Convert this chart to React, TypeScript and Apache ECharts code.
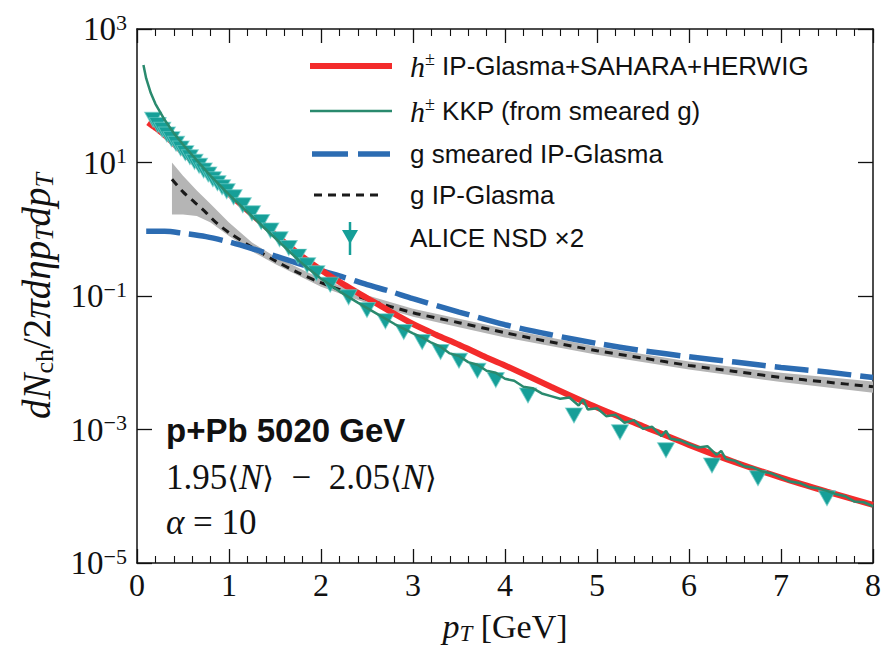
import React, { useEffect, useRef } from "react";
import * as echarts from "echarts";

// ---------- data (x in GeV, y given as log10 of dN/2πdηpTdpT) ----------
const yTickExponents = [-5, -3, -1, 1, 3];

const redPt = [0.12, 0.2, 0.3, 0.5, 0.75, 1.0, 1.25, 1.5, 1.75, 2.0, 2.25, 2.5, 2.75, 3.0, 3.25, 3.5, 3.75, 4.0, 4.5, 5.0, 5.5, 6.0, 6.5, 7.0, 7.5, 8.0];
const redLog10 = [1.6, 1.52, 1.41, 1.15, 0.84, 0.53, 0.22, -0.08, -0.36, -0.61, -0.83, -1.03, -1.23, -1.42, -1.58, -1.73, -1.89, -2.04, -2.36, -2.67, -2.95, -3.23, -3.49, -3.72, -3.93, -4.13];

const kkpPt = [0.07, 0.1, 0.15, 0.2, 0.25, 0.3, 0.4, 0.5, 0.6, 0.8, 1.0, 1.2, 1.4, 1.6, 1.8, 2.0, 2.2, 2.4, 2.6, 2.8, 3.0, 3.1, 3.2, 3.3, 3.4, 3.5, 3.6, 3.7, 3.8, 3.9, 4.0, 4.1, 4.2, 4.3, 4.4, 4.5, 4.6, 4.7, 4.8, 4.85, 4.9, 5.0, 5.1, 5.2, 5.3, 5.4, 5.5, 5.6, 5.7, 5.75, 5.8, 5.9, 6.0, 6.1, 6.2, 6.3, 6.35, 6.4, 6.5, 6.6, 6.7, 6.8, 6.9, 7.0, 7.1, 7.2, 7.3, 7.4, 7.5, 7.6, 7.7, 7.8, 7.9, 8.0];
const kkpLog10 = [2.46, 2.26, 2.04, 1.88, 1.76, 1.64, 1.44, 1.27, 1.11, 0.8, 0.52, 0.26, 0.0, -0.26, -0.52, -0.74, -0.93, -1.1, -1.26, -1.42, -1.56, -1.62, -1.7, -1.76, -1.86, -1.9, -1.99, -2.03, -2.12, -2.15, -2.24, -2.27, -2.36, -2.38, -2.46, -2.5, -2.54, -2.52, -2.64, -2.55, -2.7, -2.68, -2.8, -2.78, -2.9, -2.86, -2.99, -2.96, -3.1, -3.02, -3.14, -3.16, -3.22, -3.27, -3.25, -3.38, -3.32, -3.44, -3.47, -3.55, -3.57, -3.63, -3.66, -3.72, -3.78, -3.8, -3.86, -3.88, -3.92, -3.97, -4.0, -4.08, -4.09, -4.15];

const smearedPt = [0.1, 0.3, 0.5, 0.75, 1.0, 1.25, 1.5, 1.75, 2.0, 2.25, 2.5, 2.75, 3.0, 3.5, 4.0, 4.5, 5.0, 5.5, 6.0, 6.5, 7.0, 7.5, 8.0];
const smearedLog10 = [-0.03, -0.03, -0.06, -0.11, -0.19, -0.29, -0.4, -0.51, -0.62, -0.72, -0.83, -0.93, -1.04, -1.24, -1.43, -1.58, -1.71, -1.82, -1.91, -1.99, -2.07, -2.14, -2.22];

const glasmaPt = [0.38, 0.5, 0.63, 0.75, 0.86, 1.0, 1.25, 1.5, 1.75, 2.0, 2.5, 3.0, 3.5, 4.0, 4.5, 5.0, 5.5, 6.0, 6.5, 7.0, 7.5, 8.0];
const glasmaLog10 = [0.75, 0.56, 0.4, 0.25, 0.1, -0.05, -0.27, -0.47, -0.65, -0.8, -1.05, -1.25, -1.4, -1.55, -1.69, -1.82, -1.93, -2.04, -2.13, -2.22, -2.29, -2.36];

const bandPt = [0.38, 0.5, 0.65, 0.8, 1.0, 1.25, 1.5, 2.0, 2.5, 3.0, 3.5, 4.0, 5.0, 6.0, 7.0, 8.0];
const bandLowLog10 = [0.22, 0.22, 0.2, 0.1, -0.1, -0.33, -0.52, -0.86, -1.11, -1.31, -1.47, -1.62, -1.88, -2.1, -2.29, -2.45];
const bandHighLog10 = [1.0, 0.8, 0.58, 0.38, 0.1, -0.2, -0.41, -0.74, -0.99, -1.19, -1.34, -1.49, -1.76, -1.98, -2.15, -2.28];

const alicePt = [0.175, 0.225, 0.275, 0.325, 0.375, 0.425, 0.475, 0.525, 0.575, 0.625, 0.675, 0.725, 0.775, 0.825, 0.875, 0.925, 0.975, 1.05, 1.15, 1.25, 1.35, 1.45, 1.55, 1.65, 1.75, 1.85, 1.95, 2.1, 2.3, 2.5, 2.7, 2.9, 3.1, 3.3, 3.5, 3.7, 3.9, 4.25, 4.75, 5.25, 5.75, 6.25, 6.75, 7.5];
const aliceLog10 = [1.64, 1.56, 1.49, 1.42, 1.35, 1.28, 1.21, 1.14, 1.08, 1.01, 0.95, 0.88, 0.82, 0.75, 0.69, 0.63, 0.57, 0.48, 0.36, 0.24, 0.11, -0.02, -0.15, -0.28, -0.41, -0.54, -0.66, -0.83, -1.02, -1.21, -1.38, -1.54, -1.69, -1.84, -1.97, -2.12, -2.26, -2.49, -2.79, -3.04, -3.31, -3.54, -3.73, -4.03];

// ---------- styling ----------
const SERIF = "'Liberation Serif', 'DejaVu Serif', serif";
const SANS = "'Liberation Sans', 'DejaVu Sans', sans-serif";
const RED = "#f32b2b";
const KKP = "#2a8a6e";
const TEAL = "#169f98";
const BLUE = "#2c6cb2";
const INK = "#111";

const pairs = (xs: number[], logs: number[]) => xs.map((x, i) => [x, Math.pow(10, logs[i])]);

const expLabel = (v: number) => {
  const e = Math.round(Math.log10(v));
  if (yTickExponents.indexOf(e) < 0) return "";
  return `{b|10}{s|${e < 0 ? "\u2212" + -e : e}}`;
};

export default function App() {
  const ref = useRef<HTMLDivElement>(null);
  useEffect(() => {
    const chart = echarts.init(ref.current!, null, { renderer: "svg" });

    const commonX = {
      type: "value",
      min: 0,
      max: 8,
      interval: 1,
      axisLine: { show: true, onZero: false, lineStyle: { color: INK, width: 1.5 } },
      axisTick: { show: true, inside: true, length: 14, lineStyle: { color: INK, width: 1.3 } },
      minorTick: { show: true, splitNumber: 5, length: 7, lineStyle: { color: INK, width: 1.1 } },
      splitLine: { show: false },
      minorSplitLine: { show: false },
    };
    const commonY = {
      type: "log",
      logBase: 10,
      min: 1e-5,
      max: 1e3,
      interval: 2,
      axisLine: { show: true, onZero: false, lineStyle: { color: INK, width: 1.5 } },
      axisTick: { show: true, inside: true, length: 15, lineStyle: { color: INK, width: 1.3 } },
      minorTick: { show: false },
      splitLine: { show: false },
    };

    const legendRich = {
      h: { fontFamily: SERIF, fontStyle: "italic", fontSize: 30, lineHeight: 32, color: INK },
      pm: { fontFamily: SERIF, fontSize: 18, lineHeight: 14, verticalAlign: "top", color: INK },
      t: { fontFamily: SANS, fontSize: 26, lineHeight: 32, color: INK },
    };
    const legendText = (text: string, y: number) => ({
      type: "text",
      x: 410,
      y,
      style: { text, rich: legendRich, fontFamily: SANS, fontSize: 26, fill: INK, verticalAlign: "middle", align: "left" },
    });

    const mathRich = {
      r: { fontFamily: SERIF, fontSize: 35, lineHeight: 38, color: INK },
      i: { fontFamily: SERIF, fontStyle: "italic", fontSize: 35, lineHeight: 38, color: INK },
      a: { fontFamily: "'DejaVu Serif', 'DejaVu Sans', serif", fontSize: 30, lineHeight: 38, color: INK },
    };

    const option = {
      animation: false,
      backgroundColor: "#fff",
      grid: { left: 137, right: 8, top: 29, bottom: 85, containLabel: false },
      xAxis: [
        {
          ...commonX,
          position: "bottom",
          axisLabel: { fontFamily: SERIF, fontSize: 32, color: INK, margin: 6 },
          name: "{i|p}{s|T}{r| [GeV]}",
          nameLocation: "middle",
          nameGap: 44,
          nameTextStyle: {
            rich: {
              i: { fontFamily: SERIF, fontStyle: "italic", fontSize: 34, lineHeight: 38, color: INK },
              s: { fontFamily: SERIF, fontStyle: "italic", fontSize: 23, lineHeight: 20, verticalAlign: "bottom", color: INK },
              r: { fontFamily: SERIF, fontSize: 34, lineHeight: 38, color: INK },
            },
          },
        },
        { ...commonX, position: "top", axisLabel: { show: false } },
      ],
      yAxis: [
        {
          ...commonY,
          position: "left",
          axisLabel: {
            formatter: expLabel,
            margin: 10,
            showMinLabel: true,
            showMaxLabel: true,
            rich: {
              b: { fontFamily: SERIF, fontSize: 33, lineHeight: 36, color: INK },
              s: { fontFamily: SERIF, fontSize: 22, lineHeight: 20, verticalAlign: "top", color: INK },
            },
          },
          name: "{i|dN}{sr|ch}{r|/2}{i|\u03c0d\u03b7p}{si|T}{i|dp}{si|T}",
          nameLocation: "middle",
          nameRotate: 90,
          nameGap: 80,
          nameTextStyle: {
            rich: {
              i: { fontFamily: SERIF, fontStyle: "italic", fontSize: 39, lineHeight: 42, color: INK },
              r: { fontFamily: SERIF, fontSize: 39, lineHeight: 42, color: INK },
              sr: { fontFamily: SERIF, fontSize: 26, lineHeight: 22, verticalAlign: "bottom", color: INK },
              si: { fontFamily: SERIF, fontStyle: "italic", fontSize: 26, lineHeight: 22, verticalAlign: "bottom", color: INK },
            },
          },
        },
        { ...commonY, position: "right", axisLabel: { show: false } },
      ],
      series: [
        {
          name: "g IP-Glasma band",
          type: "custom",
          clip: true,
          silent: true,
          z: 1,
          data: bandPt.map((x, i) => [x, Math.pow(10, bandLowLog10[i]), Math.pow(10, bandHighLog10[i])]),
          renderItem: (params: any, api: any) => {
            if (params.dataIndex !== 0) return null;
            const upper = bandPt.map((x, i) => api.coord([x, Math.pow(10, bandHighLog10[i])]));
            const lower = bandPt.map((x, i) => api.coord([x, Math.pow(10, bandLowLog10[i])])).reverse();
            return { type: "polygon", shape: { points: upper.concat(lower) }, style: { fill: "#b5b5b5" } };
          },
        },
        {
          name: "g IP-Glasma",
          type: "line",
          z: 2,
          data: pairs(glasmaPt, glasmaLog10),
          showSymbol: false,
          smooth: 0.3,
          lineStyle: { color: "#1a1a1a", width: 3, type: [8, 6] },
        },
        {
          name: "g smeared IP-Glasma",
          type: "line",
          z: 3,
          data: pairs(smearedPt, smearedLog10),
          showSymbol: false,
          smooth: 0.3,
          lineStyle: { color: BLUE, width: 5.5, type: [34, 9] },
        },
        {
          name: "h\u00b1 IP-Glasma+SAHARA+HERWIG",
          type: "line",
          z: 4,
          data: pairs(redPt, redLog10),
          showSymbol: false,
          smooth: 0.3,
          lineStyle: { color: RED, width: 6 },
        },
        {
          name: "ALICE NSD \u00d72",
          type: "scatter",
          z: 5,
          data: pairs(alicePt, aliceLog10),
          symbol: "triangle",
          symbolRotate: 180,
          symbolSize: [17, 15],
          itemStyle: { color: TEAL, borderColor: "rgba(110,205,200,0.7)", borderWidth: 1, opacity: 1 },
        },
        {
          name: "h\u00b1 KKP (from smeared g)",
          type: "line",
          z: 6,
          data: pairs(kkpPt, kkpLog10),
          showSymbol: false,
          lineStyle: { color: KKP, width: 2.5 },
        },
      ],
      graphic: [
        // legend samples
        { type: "line", shape: { x1: 310, y1: 66, x2: 392, y2: 66 }, style: { stroke: RED, lineWidth: 6 } },
        { type: "line", shape: { x1: 310, y1: 111, x2: 392, y2: 111 }, style: { stroke: KKP, lineWidth: 2.5 } },
        { type: "line", shape: { x1: 312, y1: 154, x2: 390, y2: 154 }, style: { stroke: BLUE, lineWidth: 5.5, lineDash: [36, 10] } },
        { type: "line", shape: { x1: 314, y1: 195, x2: 384, y2: 195 }, style: { stroke: "#1a1a1a", lineWidth: 3, lineDash: [8, 6] } },
        { type: "line", shape: { x1: 350, y1: 222, x2: 350, y2: 255 }, style: { stroke: TEAL, lineWidth: 2.5 } },
        { type: "polygon", shape: { points: [[342, 230], [358, 230], [350, 244]] }, style: { fill: TEAL } },
        legendText("{h|h}{pm|\u00b1}{t| IP-Glasma+SAHARA+HERWIG}", 66),
        legendText("{h|h}{pm|\u00b1}{t| KKP (from smeared g)}", 111),
        legendText("{t|g smeared IP-Glasma}", 154),
        legendText("{t|g IP-Glasma}", 195),
        legendText("{t|ALICE NSD \u00d72}", 238),
        // annotations
        {
          type: "text",
          x: 166,
          y: 430,
          style: { text: "p+Pb 5020 GeV", fontFamily: SANS, fontWeight: "bold", fontSize: 33, fill: INK, verticalAlign: "middle" },
        },
        {
          type: "text",
          x: 166,
          y: 477,
          style: {
            text: "{r|1.95}{a|\u27e8}{i|N}{a|\u27e9}{r|  \u2212  2.05}{a|\u27e8}{i|N}{a|\u27e9}",
            rich: mathRich,
            fontSize: 35,
            fill: INK,
            verticalAlign: "middle",
          },
        },
        {
          type: "text",
          x: 166,
          y: 522,
          style: { text: "{i|\u03b1}{r| = 10}", rich: mathRich, fontSize: 35, fill: INK, verticalAlign: "middle" },
        },
      ],
    };

    chart.setOption(option as any);
    return () => chart.dispose();
  }, []);

  return (
    <div
      ref={ref}
      style={{ position: "fixed", left: 0, top: 0, width: 884, height: 650, background: "#fff" }}
    />
  );
}
